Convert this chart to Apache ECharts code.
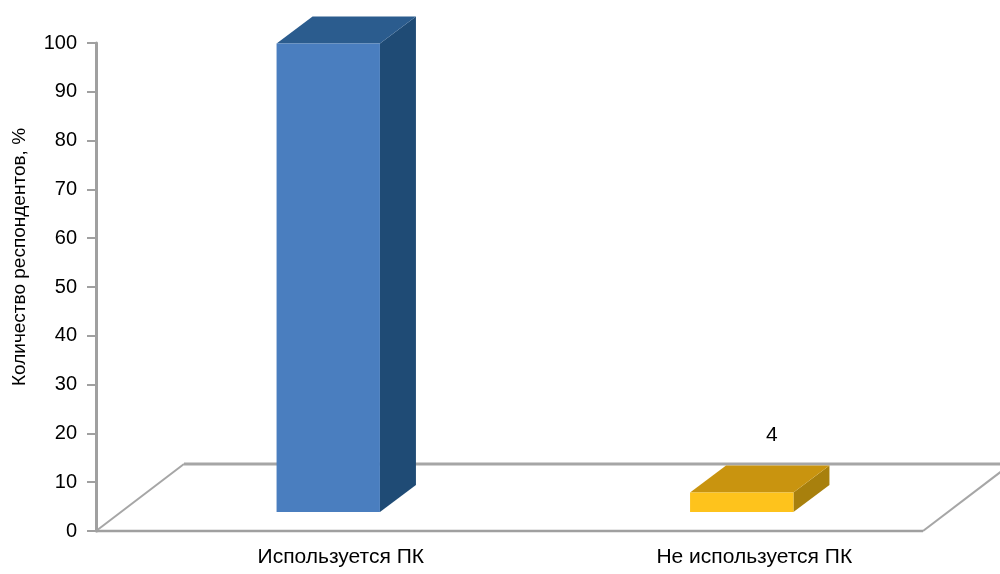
<!DOCTYPE html>
<html>
<head>
<meta charset="utf-8">
<script src="https://cdn.jsdelivr.net/npm/echarts@6/dist/echarts.min.js"></script>
<style>
  html, body { margin: 0; padding: 0; background: #fff; }
  #chart { width: 1000px; height: 574px; }
</style>
</head>
<body>
<div id="chart"></div>
<script>
// данные
const categories = ['Используется ПК', 'Не используется ПК'];
const values = [96, 4];
const yTicks = [0, 10, 20, 30, 40, 50, 60, 70, 80, 90, 100];

// цвета граней (фронт, бок, верх)
const palette = [
  { front: '#4a7ebf', side: '#1f4b75', top: '#2b5c8e' },
  { front: '#fec31c', side: '#a8800d', top: '#c9940f' }
];

const FONT = '"Liberation Sans", Arial, sans-serif';
// псевдо-3D: глубина пола и смещение столбцов
const FLOOR_DX = 88, FLOOR_DY = -67;
const BAR_OX = 25.5, BAR_OY = -19;
const BAR_DX = 36, BAR_DY = -27;

const myChart = echarts.init(document.getElementById('chart'));

function renderFloor(params, api) {
  const cs = params.coordSys;
  const x0 = cs.x, x1 = cs.x + cs.width, y = cs.y + cs.height;
  const line = (a, b, c, d, w, col) => ({
    type: 'line',
    shape: { x1: a, y1: b, x2: c, y2: d },
    style: { stroke: col, lineWidth: w }
  });
  return {
    type: 'group',
    children: [
      line(x0 + FLOOR_DX, y + FLOOR_DY, x1 + FLOOR_DX, y + FLOOR_DY, 3, '#a6a6a6'),
      line(x0, y, x0 + FLOOR_DX, y + FLOOR_DY, 2, '#a6a6a6'),
      line(x1, y, x1 + FLOOR_DX, y + FLOOR_DY, 2, '#a6a6a6'),
      line(x0, y, x1, y, 2.5, '#a0a0a0')
    ]
  };
}

function renderBar(params, api) {
  const idx = params.dataIndex;
  const col = palette[idx];
  const base = api.coord([api.value(0), 0]);
  const top = api.coord([api.value(0), api.value(1)]);
  const bw = api.size([1, 0])[0] * 0.25;
  const x0 = base[0] + BAR_OX - bw / 2;
  const x1 = x0 + bw;
  const yb = base[1] + BAR_OY;
  const yt = top[1] + BAR_OY;
  return {
    type: 'group',
    children: [
      {
        type: 'polygon',
        shape: { points: [[x1, yb], [x1 + BAR_DX, yb + BAR_DY], [x1 + BAR_DX, yt + BAR_DY], [x1, yt]] },
        style: { fill: col.side }
      },
      {
        type: 'polygon',
        shape: { points: [[x0, yt], [x0 + BAR_DX, yt + BAR_DY], [x1 + BAR_DX, yt + BAR_DY], [x1, yt]] },
        style: { fill: col.top }
      },
      {
        type: 'rect',
        shape: { x: x0, y: yt, width: bw, height: yb - yt },
        style: { fill: col.front }
      },
      {
        type: 'text',
        style: {
          x: x0 + bw / 2 + 30,
          y: yt + BAR_DY - 30,
          text: String(api.value(1)),
          fill: '#000',
          font: '21px ' + FONT,
          align: 'center',
          verticalAlign: 'middle'
        }
      }
    ]
  };
}

const option = {
  animation: false,
  grid: { left: 96, right: 77, top: 43, bottom: 43 },
  xAxis: {
    type: 'category',
    data: categories,
    axisLine: { show: false },
    axisTick: { show: false },
    axisLabel: {
      margin: 16,
      color: '#000',
      fontSize: 21,
      fontFamily: FONT,
      padding: [0, 0, 0, 76]
    }
  },
  yAxis: {
    type: 'value',
    min: yTicks[0],
    max: yTicks[yTicks.length - 1],
    interval: 10,
    name: 'Количество респондентов, %',
    nameLocation: 'middle',
    nameGap: 67,
    nameTextStyle: {
      color: '#000',
      fontSize: 19,
      fontFamily: FONT,
      padding: [0, 0, 0, 60]
    },
    axisLine: { show: true, lineStyle: { color: '#a0a0a0', width: 3 } },
    axisTick: { show: true, inside: false, length: 9, lineStyle: { color: '#a0a0a0', width: 2 } },
    axisLabel: { margin: 19, color: '#000', fontSize: 20, fontFamily: FONT },
    splitLine: { show: false }
  },
  series: [
    {
      type: 'custom',
      renderItem: renderFloor,
      data: [[0, 0]],
      silent: true,
      z: 1
    },
    {
      type: 'custom',
      renderItem: renderBar,
      data: categories.map((c, i) => [i, values[i]]),
      z: 2
    }
  ]
};

myChart.setOption(option);
window.addEventListener('resize', () => myChart.resize());
</script>
</body>
</html>
